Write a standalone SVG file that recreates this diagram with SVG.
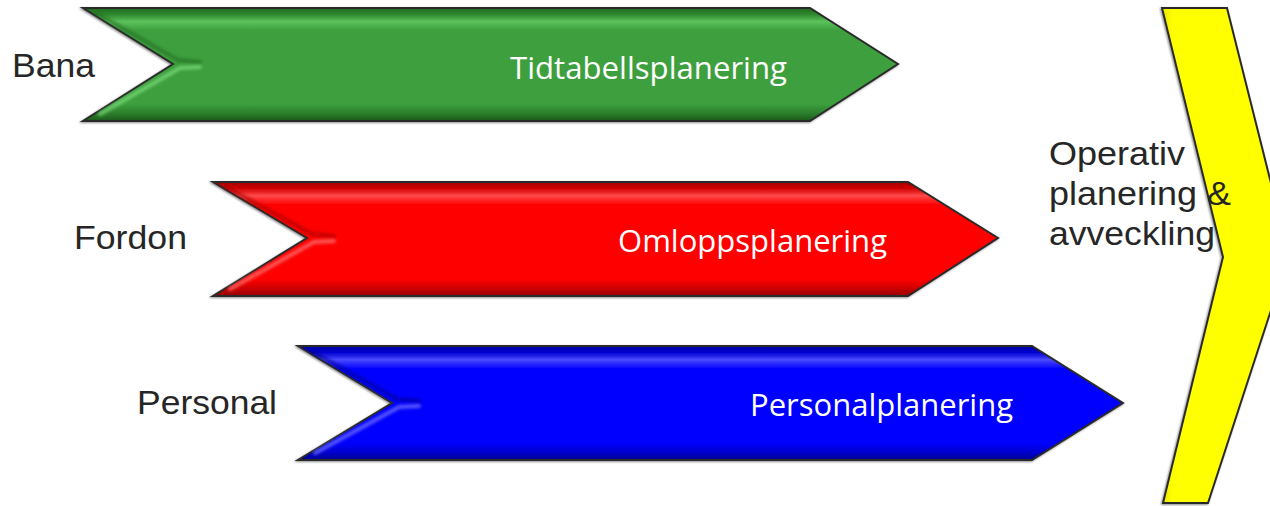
<svg xmlns="http://www.w3.org/2000/svg" width="1270" height="506" viewBox="0 0 1270 506">
  <defs>
    <linearGradient id="gG" x1="0" y1="0" x2="0" y2="1">
      <stop offset="0" stop-color="#1f6a1f"/>
      <stop offset="0.06" stop-color="#2f8a2f"/>
      <stop offset="0.12" stop-color="#5cc25c"/>
      <stop offset="0.2" stop-color="#3c9f3c"/>
      <stop offset="0.85" stop-color="#3c9f3c"/>
      <stop offset="0.93" stop-color="#2d7f2d"/>
      <stop offset="1" stop-color="#1a5a1a"/>
    </linearGradient>
    <linearGradient id="gR" x1="0" y1="0" x2="0" y2="1">
      <stop offset="0" stop-color="#a00000"/>
      <stop offset="0.06" stop-color="#d40000"/>
      <stop offset="0.12" stop-color="#ff4a4a"/>
      <stop offset="0.2" stop-color="#fe0000"/>
      <stop offset="0.85" stop-color="#fe0000"/>
      <stop offset="0.93" stop-color="#d00000"/>
      <stop offset="1" stop-color="#900000"/>
    </linearGradient>
    <linearGradient id="gB" x1="0" y1="0" x2="0" y2="1">
      <stop offset="0" stop-color="#0000a0"/>
      <stop offset="0.06" stop-color="#0000d4"/>
      <stop offset="0.12" stop-color="#4a4aff"/>
      <stop offset="0.2" stop-color="#0000fe"/>
      <stop offset="0.85" stop-color="#0000fe"/>
      <stop offset="0.93" stop-color="#0000d0"/>
      <stop offset="1" stop-color="#000090"/>
    </linearGradient>
    <linearGradient id="gY" x1="0" y1="0" x2="1" y2="0">
      <stop offset="0" stop-color="#e6e600"/>
      <stop offset="0.08" stop-color="#ffff00"/>
      <stop offset="0.88" stop-color="#ffff00"/>
      <stop offset="1" stop-color="#d0d000"/>
    </linearGradient>
    <filter id="sh" x="-5%" y="-10%" width="110%" height="120%">
      <feGaussianBlur in="SourceAlpha" stdDeviation="1.2"/>
      <feOffset dx="-1" dy="1" result="b"/>
      <feComponentTransfer><feFuncA type="linear" slope="0.45"/></feComponentTransfer>
      <feMerge><feMergeNode/><feMergeNode in="SourceGraphic"/></feMerge>
    </filter>
    <filter id="soft" x="-10%" y="-10%" width="120%" height="120%">
      <feGaussianBlur stdDeviation="1.5"/>
    </filter>
  </defs>
  <style>
    .shape { stroke: #2b2b2b; stroke-width: 2; stroke-linejoin: miter; }
    .lbl { font-family: "Liberation Sans", Arial, sans-serif; font-size: 33px; fill: #262626; }
    .in { font-family: "Open Sans", "Lato", sans-serif; font-size: 31px; fill: #ffffff; text-anchor: start; }
    .hl { fill: none; stroke-width: 4; stroke-linecap: round; filter: url(#soft); }
  </style>

  <g id="node-bana">
    <polygon class="shape" filter="url(#sh)" fill="url(#gG)" points="83,8 810,8 898,64 810,121 83,121 173,64"/>
    <path class="hl" stroke="#1f6a1f" stroke-opacity="0.6" d="M96,13 L178,60 L200,62"/>
    <path class="hl" stroke="#7ee07e" stroke-opacity="0.7" d="M200,67 L180,68 L100,114"/>
    <text class="lbl" x="12" y="77" textLength="83" lengthAdjust="spacingAndGlyphs">Bana</text>
    <text class="in" x="510" y="79" textLength="277" lengthAdjust="spacingAndGlyphs">Tidtabellsplanering</text>
  </g>

  <g id="node-fordon">
    <polygon class="shape" filter="url(#sh)" fill="url(#gR)" points="213,182 908,182 998,238 908,296 213,296 307,238"/>
    <path class="hl" stroke="#a00000" stroke-opacity="0.6" d="M226,187 L312,234 L334,236"/>
    <path class="hl" stroke="#ff7a7a" stroke-opacity="0.7" d="M334,241 L314,242 L230,289"/>
    <text class="lbl" x="74" y="249" textLength="113" lengthAdjust="spacingAndGlyphs">Fordon</text>
    <text class="in" x="618" y="252" textLength="269" lengthAdjust="spacingAndGlyphs">Omloppsplanering</text>
  </g>

  <g id="node-personal">
    <polygon class="shape" filter="url(#sh)" fill="url(#gB)" points="298,346 1032,346 1123,403 1032,460 298,460 392,403"/>
    <path class="hl" stroke="#000090" stroke-opacity="0.6" d="M311,351 L397,399 L419,401"/>
    <path class="hl" stroke="#7a7aff" stroke-opacity="0.7" d="M419,406 L399,407 L315,453"/>
    <text class="lbl" x="137" y="414" textLength="140" lengthAdjust="spacingAndGlyphs">Personal</text>
    <text class="in" x="750" y="416" textLength="263" lengthAdjust="spacingAndGlyphs">Personalplanering</text>
  </g>

  <g id="node-operativ">
    <polygon class="shape" filter="url(#sh)" fill="url(#gY)" points="1162,8 1227,8 1289,255 1208,503 1163,503 1223,257"/>
    <text class="lbl" x="1049" y="165" textLength="136" lengthAdjust="spacingAndGlyphs">Operativ</text>
    <text class="lbl" x="1049" y="205" textLength="182" lengthAdjust="spacingAndGlyphs">planering &amp;</text>
    <text class="lbl" x="1049" y="245" textLength="166" lengthAdjust="spacingAndGlyphs">avveckling</text>
  </g>

  <g id="connectors"/>
</svg>
